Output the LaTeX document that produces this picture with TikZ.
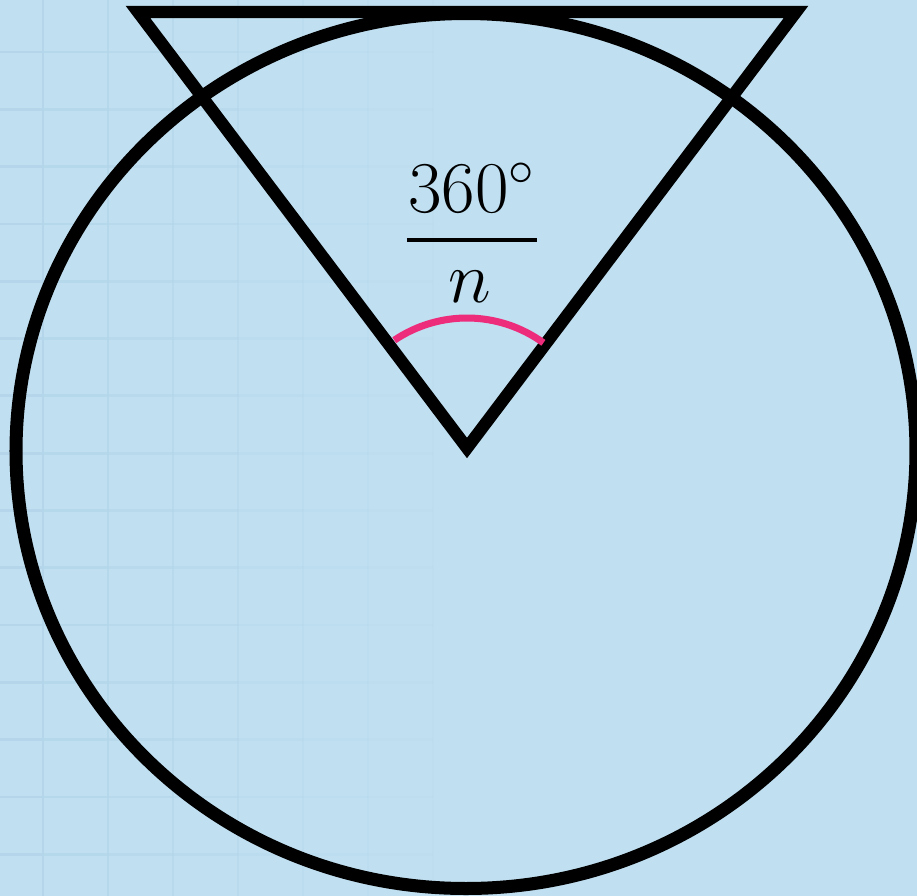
\documentclass[tikz,border=0pt]{standalone}
\usepackage{amsmath,amssymb}
\usepackage{tikz}
\usetikzlibrary{calc}
\definecolor{skyback}{RGB}{192,224,241}
\definecolor{gridblue}{RGB}{180,214,234}
\definecolor{arcpink}{RGB}{238,44,124}

\begin{document}
\begin{tikzpicture}[x=0.01cm, y=0.01cm,
  outline/.style={black, line width=3.5pt},
  anglearc/.style={arcpink, line width=2pt},
  gridline/.style={gridblue, line width=0.8pt}]
  \useasboundingbox (0,0) rectangle (917,-896);
  \clip (0,0) rectangle (917,-896);
  \fill[skyback] (0,0) rectangle (917,-896);
  % faint grid, fading to the right
  \foreach \k in {0,...,6} {
    \pgfmathsetmacro{\op}{0.9-\k/8}
    \draw[gridline, opacity=\op] ({43+65*\k},0) -- ({43+65*\k},-896);
    \foreach \j in {0,...,14}
      \draw[gridline, opacity=\op] ({65*\k-22},{-52-57.3*\j}) -- ({65*\k+43},{-52-57.3*\j});
  }
  % Circle
  \draw[outline, line width=3.7pt] (466,-451) ellipse (450 and 437.5);
  % Triangle
  \coordinate (tl) at (138,-12);
  \coordinate (tr) at (796,-12);
  \coordinate (apex) at (467,-448);
  \draw[outline, miter limit=10] (tl) -- (tr) -- (apex) -- cycle;
  % Angle at the centre
  \draw[anglearc] ($(apex)+(54:130)$) arc[start angle=54, end angle=124, radius=130];
  \node[anchor=base, inner sep=0pt, font=\fontsize{22}{26}\selectfont] (num) at (472,-212) {$360^\circ$};
  \node[anchor=base, inner sep=0pt, font=\fontsize{22}{26}\selectfont] (den) at (470,-302) {$n$};
  \draw[black, line width=1.4pt] (407,-240) -- (537,-240);
\end{tikzpicture}
\end{document}
